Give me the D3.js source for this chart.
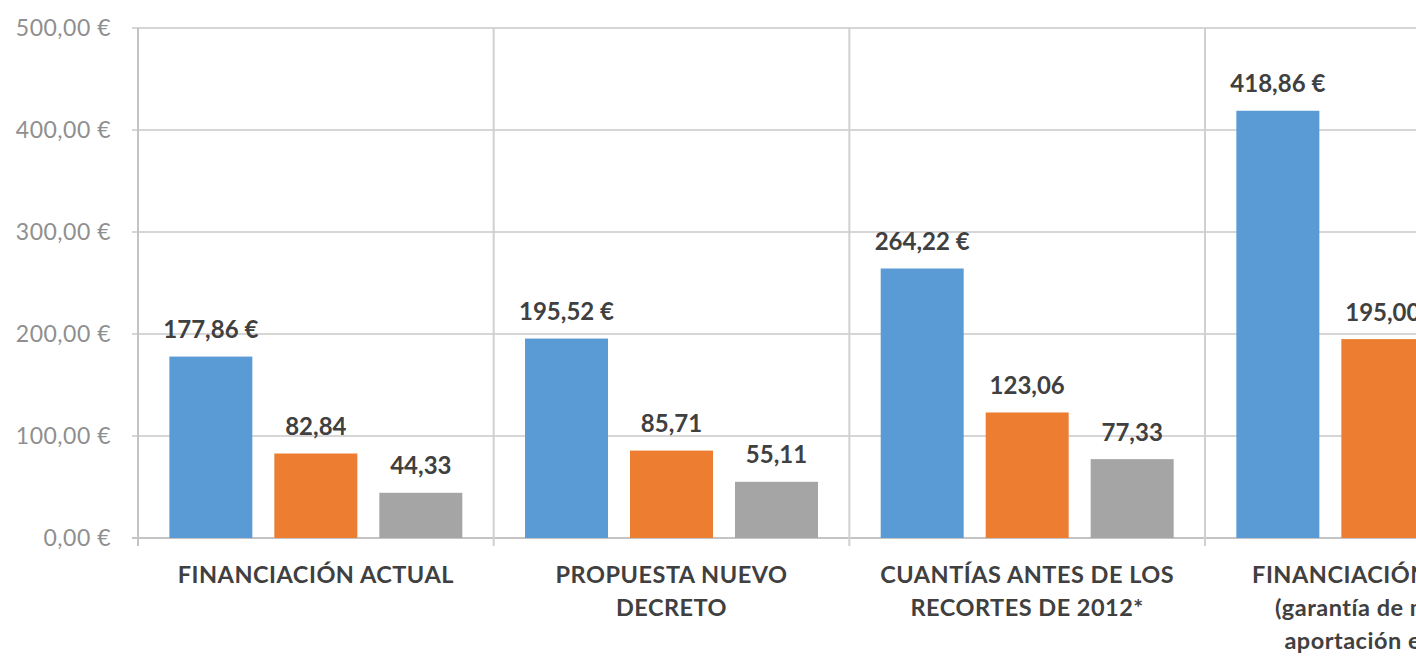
<!DOCTYPE html>
<html>
<head>
<meta charset="utf-8">
<script src="https://cdn.jsdelivr.net/npm/d3@7"></script>
<style>
  html, body { margin: 0; padding: 0; background: #ffffff; }
  svg { display: block; }
</style>
</head>
<body>
<script>
// ---- data ----
const categories = ["FINANCIACIÓN ACTUAL", "PROPUESTA NUEVO DECRETO", "CUANTÍAS ANTES DE LOS RECORTES DE 2012*", "FINANCIACIÓN LAPAD"];
const categoryLines = [
  ["FINANCIACIÓN ACTUAL"],
  ["PROPUESTA NUEVO", "DECRETO"],
  ["CUANTÍAS ANTES DE LOS", "RECORTES DE 2012*"],
  ["FINANCIACIÓN LAPAD", "(garantía de mínimo", "aportación estatal"]
];
const seriesNames = ["Grado III", "Grado II", "Grado I"];
const seriesA = [177.86, 195.52, 264.22, 418.86];
const seriesB = [82.84, 85.71, 123.06, 195.00];
const seriesC = [44.33, 55.11, 77.33, null]; // last value not visible in the picture
const yTicks = [0, 100, 200, 300, 400, 500];
const colors = ["#5b9bd5", "#ed7d31", "#a5a5a5"];

// ---- layout ----
const W = 1416, H = 656;
const mLeft = 138, mTop = 28, mBottom = 538;
const bandW = 355.67;

const locale = d3.formatLocale({decimal: ",", thousands: ".", grouping: [3], currency: ["", "\u00a0€"]});
const fmtEuro = locale.format("$.2f");
const fmtNum = locale.format(".2f");

const svg = d3.select("body").append("svg").attr("width", W).attr("height", H);

const x = d3.scaleBand().domain(categories).range([mLeft, mLeft + bandW * categories.length]).padding(0);
const xi = d3.scaleBand().domain(seriesNames).range([0, x.bandwidth()]).paddingInner(22 / 105).paddingOuter(0.2986);
const y = d3.scaleLinear().domain([0, 500]).range([mBottom, mTop]);

// horizontal gridlines
svg.append("g").selectAll("line").data(yTicks).join("line")
  .attr("x1", mLeft - 6).attr("x2", W)
  .attr("y1", d => y(d)).attr("y2", d => y(d))
  .attr("stroke", d => d === 0 ? "#c4c4c4" : "#d6d6d6")
  .attr("stroke-width", 2);

// vertical category separators
svg.append("g").selectAll("line").data(categories).join("line")
  .attr("x1", d => x(d)).attr("x2", d => x(d))
  .attr("y1", mTop).attr("y2", mBottom + 8)
  .attr("stroke", (d, i) => i === 0 ? "#c4c4c4" : "#d0d0d0")
  .attr("stroke-width", 2);

// y axis labels
const yAxis = d3.axisLeft(y).tickValues(yTicks).tickFormat(fmtEuro).tickSize(0).tickPadding(0);
const yg = svg.append("g").attr("transform", `translate(${mLeft - 27},0)`).call(yAxis);
yg.select(".domain").remove();
yg.selectAll("text")
  .attr("font-family", "Lato, 'DejaVu Sans', sans-serif")
  .attr("font-size", 23)
  .attr("letter-spacing", 0.5)
  .attr("fill", "#8f8f8f");

// bars
const series = [seriesA, seriesB, seriesC];
const barData = [];
categories.forEach((c, ci) => {
  series.forEach((s, si) => {
    if (s[ci] != null) barData.push({cat: c, name: seriesNames[si], si, v: s[ci]});
  });
});

svg.append("g").selectAll("rect").data(barData).join("rect")
  .attr("x", d => x(d.cat) + xi(d.name))
  .attr("width", xi.bandwidth())
  .attr("y", d => y(d.v))
  .attr("height", d => y(0) - y(d.v))
  .attr("fill", d => colors[d.si]);

// value labels
svg.append("g").selectAll("text").data(barData).join("text")
  .attr("x", d => x(d.cat) + xi(d.name) + xi.bandwidth() / 2)
  .attr("y", d => y(d.v) - 27)
  .attr("dy", "0.35em")
  .attr("text-anchor", "middle")
  .attr("font-family", "Lato, 'DejaVu Sans', sans-serif")
  .attr("font-weight", "bold")
  .attr("font-size", 24)
  .attr("fill", "#404040")
  .text(d => d.si === 0 ? fmtEuro(d.v) : fmtNum(d.v));

// category labels
const cg = svg.append("g");
categories.forEach((c, ci) => {
  const t = cg.append("text")
    .attr("x", x(c) + x.bandwidth() / 2)
    .attr("y", 575)
    .attr("text-anchor", "middle")
    .attr("font-family", "Lato, 'DejaVu Sans', sans-serif")
    .attr("font-weight", "bold")
    .attr("font-size", 23.5)
    .attr("letter-spacing", 0.5)
    .attr("fill", "#404040");
  categoryLines[ci].forEach((line, li) => {
    t.append("tspan")
      .attr("x", x(c) + x.bandwidth() / 2)
      .attr("y", 575 + li * 33)
      .attr("dy", "0.35em")
      .text(line);
  });
});
</script>
</body>
</html>
